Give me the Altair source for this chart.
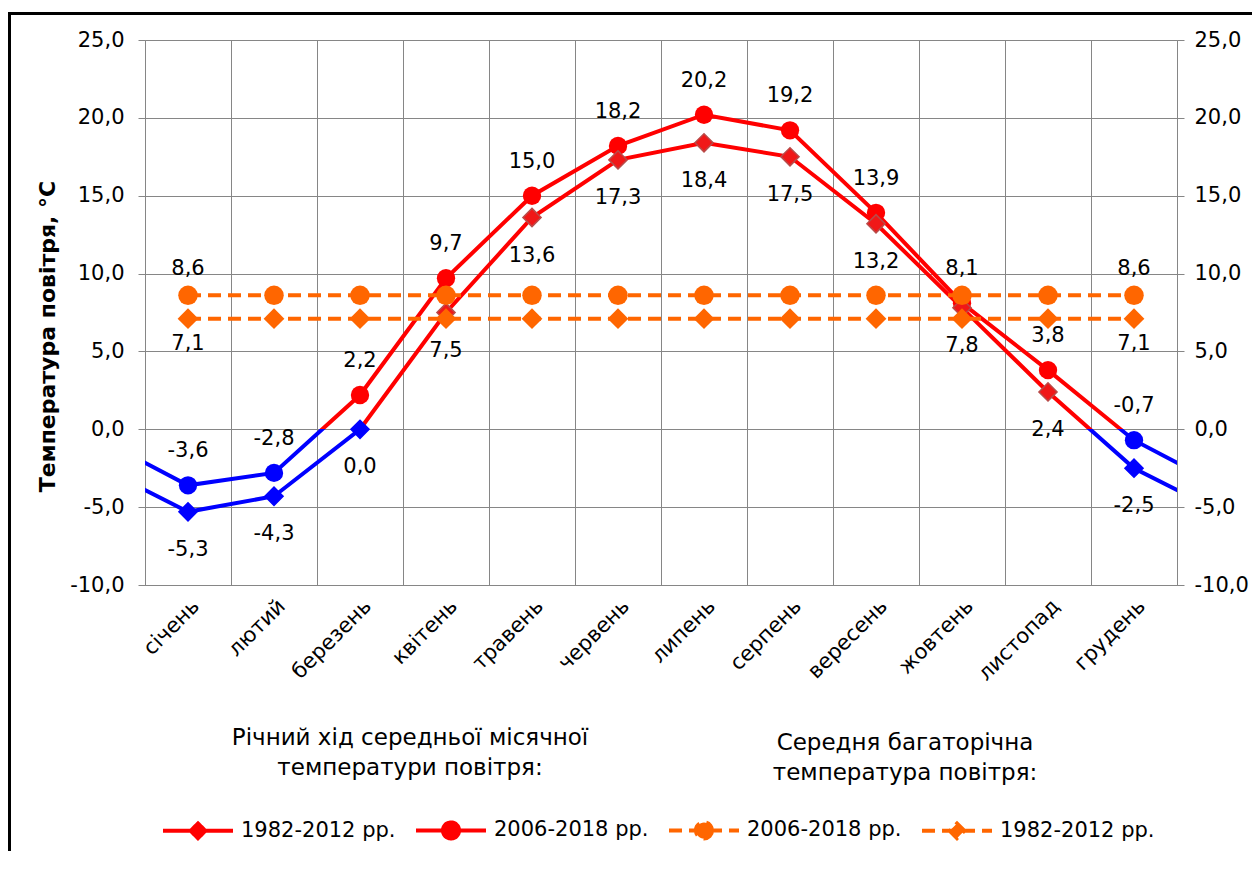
import json
import altair as alt
import pandas as pd

# ---------------- data ----------------
months = ["січень", "лютий", "березень", "квітень", "травень", "червень",
          "липень", "серпень", "вересень", "жовтень", "листопад", "грудень"]
t_2006_2018 = [-3.6, -2.8, 2.2, 9.7, 15.0, 18.2, 20.2, 19.2, 13.9, 8.1, 3.8, -0.7]
t_1982_2012 = [-5.3, -4.3, 0.0, 7.5, 13.6, 17.3, 18.4, 17.5, 13.2, 7.8, 2.4, -2.5]
norm_2006_2018 = [8.6, 8.6, 8.6, 8.6, 8.6, 8.6, 8.6, 8.6, 8.6, 8.6, 8.6, 8.6]
norm_1982_2012 = [7.1, 7.1, 7.1, 7.1, 7.1, 7.1, 7.1, 7.1, 7.1, 7.1, 7.1, 7.1]
y_ticks = [-10.0, -5.0, 0.0, 5.0, 10.0, 15.0, 20.0, 25.0]
series_keys = ["s1982", "s2006", "n2006", "n1982"]
series_labels = ["1982-2012 рр.", "2006-2018 рр.", "2006-2018 рр.", "1982-2012 рр."]
annot_left = ["Річний хід середньої місячної", "температури повітря:"]
annot_right = ["Середня багаторічна", "температура повітря:"]
y_title = "Температура повітря, °С"

# ---------------- styles ----------------
RED = "#FF0000"
BLUE = "#0000FF"
ORANGE = "#FF6600"
GRID = "#868686"
FONT = "DejaVu Sans"
DASH = [13, 7]


def fmt(v):
    return f"{v:.1f}".replace(".", ",")


n = len(months)
m_idx = list(range(1, n + 1))
df = pd.DataFrame({
    "m": m_idx,
    "t06": t_2006_2018,
    "t82": t_1982_2012,
    "n06": norm_2006_2018,
    "n82": norm_1982_2012,
    "l06": [fmt(v) for v in t_2006_2018],
    "l82": [fmt(v) for v in t_1982_2012],
    "ln06": [fmt(v) for v in norm_2006_2018],
    "ln82": [fmt(v) for v in norm_1982_2012],
})
# annual cycle: December of the previous year before January, January after December
wrap = pd.DataFrame({
    "m": [0] + m_idx + [n + 1],
    "t06": [t_2006_2018[-1]] + t_2006_2018 + [t_2006_2018[0]],
    "t82": [t_1982_2012[-1]] + t_1982_2012 + [t_1982_2012[0]],
})
legend_df = pd.DataFrame({"s": series_keys, "m": [1] * 4, "v": [0.0] * 4})
one = pd.DataFrame({"k": [0]})


def zero_gradient(vals):
    hi, lo = max(vals), min(vals)
    f = hi / (hi - lo)
    return alt.LinearGradient(
        gradient="linear", x1=0, x2=0, y1=0, y2=1,
        stops=[alt.GradientStop(color=RED, offset=0),
               alt.GradientStop(color=RED, offset=f),
               alt.GradientStop(color=BLUE, offset=f),
               alt.GradientStop(color=BLUE, offset=1)])


x_scale = alt.Scale(domain=[0.5, n + 0.5], nice=False, zero=False)
y_scale = alt.Scale(domain=[min(y_ticks), max(y_ticks)], nice=False, zero=False)
band_edges = [i + 0.5 for i in range(n + 1)]
month_expr = json.dumps(months, ensure_ascii=False) + "[datum.value - 1]"
num_expr = "replace(replace(format(datum.value, '.1f'), '.', ','), '\u2212', '-')"

axis_x_grid = alt.Axis(orient="top", values=band_edges, grid=True, gridColor=GRID,
                       gridOpacity=1, gridWidth=1, labels=False, ticks=False,
                       domain=False, title=None)
axis_x_lab = alt.Axis(orient="bottom", values=m_idx, grid=False, ticks=False,
                      domain=True, domainColor=GRID, domainWidth=1,
                      labelExpr=month_expr, labelAngle=-45, labelAlign="right",
                      labelBaseline="top", labelPadding=10, labelFontSize=21,
                      labelFont=FONT, labelColor="black", labelOverlap=False,
                      labelFlush=False, title=None)
axis_y_left = alt.Axis(orient="left", values=y_ticks, labelExpr=num_expr, grid=True,
                       gridColor=GRID, gridOpacity=1, gridWidth=1, domainColor=GRID,
                       tickColor=GRID, tickSize=7, labelPadding=14, labelFontSize=21,
                       labelFont=FONT, labelColor="black", labelOverlap=False,
                       labelFlush=False, title=y_title, titleFont=FONT,
                       titleFontSize=22, titleFontWeight="bold", titleColor="black",
                       titleAngle=270, titleX=-86, titleY=296,
                       titleBaseline="bottom", titleAlign="center")
axis_y_right = alt.Axis(orient="right", values=y_ticks, labelExpr=num_expr, grid=False,
                        domainColor=GRID, tickColor=GRID, tickSize=7, labelPadding=10,
                        labelFontSize=21, labelFont=FONT, labelColor="black",
                        labelOverlap=False, labelFlush=False, title=None)


def X(f):
    return alt.X(f, type="quantitative", scale=x_scale, axis=None)


def Y(f):
    return alt.Y(f, type="quantitative", scale=y_scale, axis=None)


# temperature lines (red above zero, blue below)
line_up = alt.Chart(wrap).mark_line(color=zero_gradient(wrap["t06"].tolist()),
                                    strokeWidth=4, clip=True).encode(
    x=alt.X("m:Q", scale=x_scale, axis=axis_x_lab),
    y=alt.Y("t06:Q", scale=y_scale, axis=axis_y_right))
line_low = alt.Chart(wrap).mark_line(color=zero_gradient(wrap["t82"].tolist()),
                                     strokeWidth=4, clip=True).encode(
    x=X("m"), y=Y("t82"))

pts_up = alt.Chart(df).mark_point(filled=True, shape="circle", size=336, opacity=1).encode(
    x=X("m"), y=Y("t06"),
    color=alt.condition("datum.t06 <= 0", alt.value(BLUE), alt.value(RED)))
pts_low = alt.Chart(df).mark_point(filled=True, shape="diamond", size=330, opacity=1,
                                   strokeWidth=1.5).encode(
    x=X("m"), y=Y("t82"),
    fill=alt.condition("datum.t82 <= 0", alt.value(BLUE), alt.value("#F01818")),
    stroke=alt.condition("datum.t82 <= 0", alt.value(BLUE), alt.value("#B94A48")))

# norm (dashed) lines
norm_line06 = alt.Chart(df).mark_line(strokeWidth=4, color=ORANGE, strokeDash=DASH).encode(
    x=alt.X("m:Q", scale=x_scale, axis=axis_x_grid),
    y=alt.Y("n06:Q", scale=y_scale, axis=axis_y_left))
norm_line82 = alt.Chart(df).mark_line(strokeWidth=4, color=ORANGE, strokeDash=DASH).encode(
    x=X("m"), y=Y("n82"))
norm_pts06 = alt.Chart(df).mark_point(filled=True, shape="circle", size=380, opacity=1,
                                      color=ORANGE).encode(x=X("m"), y=Y("n06"))
norm_pts82 = alt.Chart(df).mark_point(filled=True, shape="diamond", size=430, opacity=1,
                                      color=ORANGE).encode(x=X("m"), y=Y("n82"))

# legend (line + marker symbols), from scales only; no marks drawn
circle_path = "M-1,0H1M0.23,0A0.23,0.23,0,1,1,-0.23,0A0.23,0.23,0,1,1,0.23,0Z"
diamond_path = "M-1,0H1M0,-0.21L0.21,0L0,0.21L-0.21,0Z"
keys_js = json.dumps(series_keys)
labels_js = json.dumps(series_labels, ensure_ascii=False)
legend = alt.Legend(
    orient="none", legendX=16, legendY=753, direction="horizontal", title=None,
    labelExpr=f"{labels_js}[indexof({keys_js}, datum.value)]",
    labelFontSize=21, labelFont=FONT, labelColor="black", labelLimit=300,
    labelOffset=6, columnPadding=12, padding=0, symbolSize=4900,
    symbolStrokeWidth=4, symbolOpacity=1)
col_scale = alt.Scale(domain=series_keys, range=[RED, RED, ORANGE, ORANGE])
legend_layer = alt.Chart(legend_df).transform_filter("false").mark_point(
    filled=True, strokeWidth=4, opacity=1).encode(
    x=X("m"), y=Y("v"),
    color=alt.Color("s:N", scale=col_scale, legend=legend),
    stroke=alt.Stroke("s:N", scale=col_scale, legend=legend),
    shape=alt.Shape("s:N", scale=alt.Scale(domain=series_keys,
                                           range=[diamond_path, circle_path,
                                                  circle_path, diamond_path]),
                    legend=legend),
    strokeDash=alt.StrokeDash("s:N", scale=alt.Scale(domain=series_keys,
                                                     range=[[1, 0], [1, 0], DASH, DASH]),
                              legend=legend))

txt = dict(fontSize=21, font=FONT, color="black", baseline="middle", align="center")
lab_up = alt.Chart(df).mark_text(dy=-34, **txt).encode(x=X("m"), y=Y("t06"), text="l06:N")
lab_low = alt.Chart(df).mark_text(dy=38, **txt).encode(x=X("m"), y=Y("t82"), text="l82:N")
ends = f"datum.m == 1 || datum.m == {n}"
lab_n06 = alt.Chart(df).transform_filter(ends).mark_text(dy=-26, **txt).encode(
    x=X("m"), y=Y("n06"), text="ln06:N")
lab_n82 = alt.Chart(df).transform_filter(ends).mark_text(dy=25, **txt).encode(
    x=X("m"), y=Y("n82"), text="ln82:N")

ann_style = dict(fontSize=23, font=FONT, color="black", align="center",
                 baseline="alphabetic", lineHeight=30)
ann_left = alt.Chart(one).mark_text(**ann_style).encode(
    x=alt.value(265), y=alt.value(705), text=alt.value(annot_left))
ann_right = alt.Chart(one).mark_text(**ann_style).encode(
    x=alt.value(760), y=alt.value(710), text=alt.value(annot_right))

frame_left = alt.Chart(one).mark_rule(color="black", strokeWidth=3).encode(
    x=alt.value(-135.5), y=alt.value(-26.5), y2=alt.value(900))
frame_top = alt.Chart(one).mark_rule(color="black", strokeWidth=3).encode(
    x=alt.value(-137), x2=alt.value(1300), y=alt.value(-26.5))

chart = alt.layer(
    line_up, line_low, pts_up, pts_low, norm_line06, norm_line82, norm_pts06, norm_pts82,
    legend_layer, lab_up, lab_low, lab_n06, lab_n82, ann_left, ann_right,
    frame_left, frame_top
).resolve_axis(x="independent", y="independent").properties(
    width=1032, height=545,
    padding={"left": 137, "top": 32, "right": 75, "bottom": 266},
    autosize=alt.AutoSizeParams(type="none"),
    background="white",
).configure_view(strokeWidth=0).configure(font=FONT)

chart.save("out.html", embed_options={"renderer": "svg", "actions": False})
